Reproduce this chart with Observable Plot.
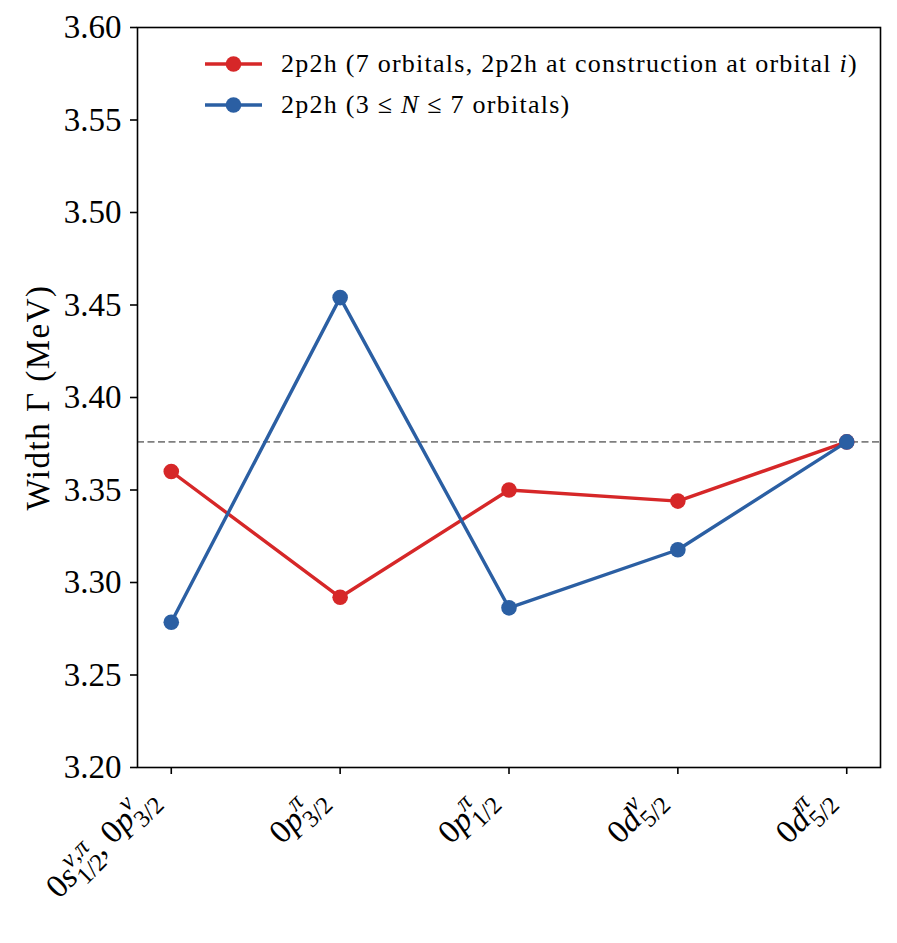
<!DOCTYPE html>
<html>
<head>
<meta charset="utf-8">
<script src="https://cdn.jsdelivr.net/npm/d3@7"></script>
<script src="https://cdn.jsdelivr.net/npm/@observablehq/plot@0.6"></script>
<style>
  body { margin: 0; background: #fff; }
  #wrap { position: relative; width: 897px; height: 943px; font-family: "Liberation Serif", serif; }
  #wrap svg, #wrap svg text { font-family: "Liberation Serif", serif !important; }
  #legend { position: absolute; left: 205px; top: 43px; font-size: 26px; letter-spacing: 1.25px; color: #000; }
  .row { display: flex; align-items: center; height: 41px; }
  .row svg { flex: none; margin-right: 19px; }
  g[aria-label="y-axis label"] text { letter-spacing: 1.5px; }
</style>
</head>
<body>
<div id="wrap"><div id="legend"></div></div>
<script>
// ---- data ----
const categories = ["0s1/2(ν,π), 0p3/2(ν)", "0p3/2(π)", "0p1/2(π)", "0d5/2(ν)", "0d5/2(π)"];
// tick label pieces: [base, superscript, subscript] per orbital
const tickLabelParts = [
  [["0s", "ν,π", "1/2"], ["0p", "ν", "3/2"]],
  [["0p", "π", "3/2"]],
  [["0p", "π", "1/2"]],
  [["0d", "ν", "5/2"]],
  [["0d", "π", "5/2"]]
];
const seriesNames = ["2p2h (7 orbitals, 2p2h at construction at orbital i)", "2p2h (3 ≤ N ≤ 7 orbitals)"];
const seriesColors = ["#d62728", "#2b5fa3"];
const redValues = [3.360, 3.292, 3.350, 3.344, 3.376];
const blueValues = [3.2785, 3.454, 3.2863, 3.3177, 3.376];
const referenceWidth = [3.376];
const yTicks = [3.20, 3.25, 3.30, 3.35, 3.40, 3.45, 3.50, 3.55, 3.60];
const yLabel = "Width Γ (MeV)";

const rows = [];
categories.forEach((c, i) => rows.push({i, v: redValues[i], s: seriesNames[0]}));
categories.forEach((c, i) => rows.push({i, v: blueValues[i], s: seriesNames[1]}));
const red = rows.filter(d => d.s === seriesNames[0]);
const blue = rows.filter(d => d.s === seriesNames[1]);

const F = 33;
const FF = '"Liberation Serif", serif';
const xTicks = d3.range(categories.length);
const chart = Plot.plot({
  width: 897,
  height: 943,
  marginTop: 27,
  marginBottom: 176,
  marginLeft: 137,
  marginRight: 17,
  style: {fontFamily: FF, background: "#fff", color: "#000"},
  x: {type: "linear", domain: [-0.2, categories.length - 1 + 0.2]},
  y: {domain: [3.2, 3.6]},
  marks: [
    Plot.ruleY(referenceWidth, {stroke: "#7f7f7f", strokeWidth: 1.6, strokeDasharray: "7,3.5"}),
    Plot.line(red, {x: "i", y: "v", stroke: seriesColors[0], strokeWidth: 3.4}),
    Plot.dot(red, {x: "i", y: "v", fill: seriesColors[0], r: 7.8}),
    Plot.line(blue, {x: "i", y: "v", stroke: seriesColors[1], strokeWidth: 3.4}),
    Plot.dot(blue, {x: "i", y: "v", fill: seriesColors[1], r: 7.8}),
    Plot.frame({stroke: "#000", strokeWidth: 1.6}),
    Plot.axisY({ticks: yTicks, tickFormat: d3.format(".2f"), tickSize: 7, tickPadding: 9, fontSize: F,
      label: yLabel, labelAnchor: "center", labelArrow: "none", labelOffset: 112, strokeWidth: 1.6}),
    Plot.axisX({ticks: xTicks, tickFormat: () => "", tickSize: 7, label: null, strokeWidth: 1.6}),
    Plot.axisX({ticks: xTicks, tickFormat: i => "L" + i, tickRotate: -45,
      tickSize: 0, tickPadding: 25, dx: -20, fontSize: F, label: null})
  ]
});
document.getElementById("wrap").prepend(chart);

// ---- build math-style tick labels ----
const svgNS = "http://www.w3.org/2000/svg";
const SS = F * 0.74;
d3.select(chart).selectAll('g[aria-label="x-axis tick label"] text').each(function() {
  const t = this;
  const raw = t.textContent;
  if (!raw) return;
  const idx = +raw.replace(/[^0-9]/g, "");
  const groups = tickLabelParts[idx];
  while (t.firstChild) t.removeChild(t.firstChild);
  let cur = 0;
  const pend = [];
  const mk = (txt, opts) => {
    const s = document.createElementNS(svgNS, "tspan");
    s.textContent = txt;
    if (opts.italic) s.setAttribute("font-style", "italic");
    if (opts.size) s.setAttribute("font-size", opts.size);
    const target = opts.shift || 0;
    if (target !== cur) { s.setAttribute("dy", target - cur); cur = target; }
    t.appendChild(s);
    return s;
  };
  groups.forEach((g, gi) => {
    const [base, sup, sub] = g;
    mk((gi > 0 ? ", " : "") + base[0], {});
    mk(base.slice(1), {italic: true});
    const supS = mk(sup, {italic: true, size: SS, shift: -F * 0.42});
    const subS = mk(sub, {size: SS, shift: F * 0.28});
    pend.push({supS, subS});
  });
  pend.forEach(p => {
    const w = p.supS.getComputedTextLength();
    p.subS.setAttribute("dx", -w);
    const ws = p.subS.getComputedTextLength();
    const next = p.subS.nextSibling;
    if (next && w > ws) next.setAttribute("dx", w - ws);
  });
});

// ---- legend ----
const legend = d3.select("#legend");
const legendHtml = [
  "2p2h (7 orbitals, 2p2h at construction at orbital <i>i</i>)",
  "2p2h (3 ≤ <i>N</i> ≤ 7 orbitals)"
];
seriesNames.forEach((name, k) => {
  const row = legend.append("div").attr("class", "row");
  const sw = row.append("svg").attr("width", 57).attr("height", 20);
  sw.append("line").attr("x1", 0).attr("x2", 57).attr("y1", 10).attr("y2", 10)
    .attr("stroke", seriesColors[k]).attr("stroke-width", 3.4);
  sw.append("circle").attr("cx", 28.5).attr("cy", 10).attr("r", 7.8).attr("fill", seriesColors[k]);
  row.append("span").attr("title", name).html(legendHtml[k]);
});
</script>
</body>
</html>
